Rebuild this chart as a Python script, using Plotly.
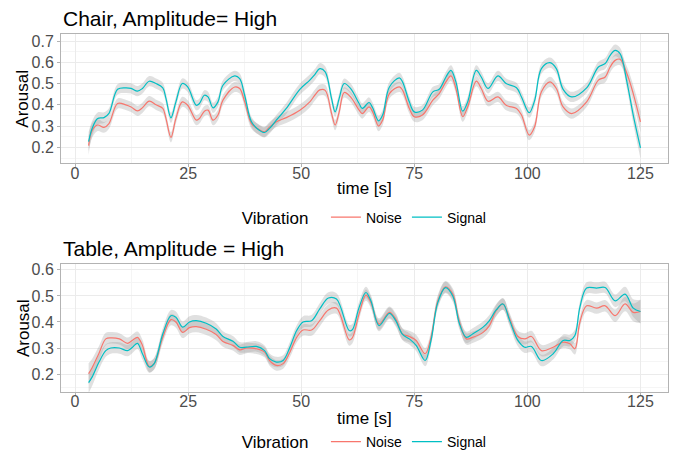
import plotly.graph_objects as go

# ---- Chair, amplitude high ----
chair_time = [3, 3.8, 5, 6.4, 7.5, 9.4, 11.2, 12.4, 13.8, 14.9,
              16.4, 17.9, 19.4, 20.1, 21.2, 22.3, 23.7, 24.9, 26.8, 27.5,
              28.6, 29.4, 30.5, 31.6, 32.7, 35.3, 36.4, 37.5, 39, 40.5,
              41.9, 43, 44.5, 46.7, 49.7, 51.9, 53, 54.1, 55.3, 56.7,
              57.5, 58.4, 59.5, 60.9, 62.8, 63.5, 65, 65.8, 67.1, 68,
              69.5, 71.7, 72.4, 73.9, 75, 76.8, 79.1, 80.5, 82, 83.1,
              84.2, 85.7, 86.8, 88.7, 89.8, 91.3, 93.5, 95.3, 97.6, 98.7,
              100.4, 101.6, 103.1, 105, 106.4, 107.9, 109.8, 113.1, 115.7, 117.2,
              118.3, 119.4, 120.5, 122, 123.4, 125]
chair_signal = [0.227, 0.29, 0.336, 0.34, 0.36, 0.473, 0.48, 0.477, 0.464, 0.477,
                0.511, 0.50, 0.48, 0.43, 0.339, 0.414, 0.50, 0.484, 0.398, 0.406,
                0.445, 0.437, 0.386, 0.414, 0.492, 0.536, 0.523, 0.445, 0.32, 0.284,
                0.27, 0.289, 0.328, 0.383, 0.473, 0.516, 0.542, 0.57, 0.555, 0.43,
                0.367, 0.43, 0.50, 0.477, 0.406, 0.383, 0.411, 0.386, 0.325, 0.352,
                0.484, 0.527, 0.508, 0.414, 0.367, 0.375, 0.461, 0.473, 0.531, 0.562,
                0.508, 0.37, 0.414, 0.562, 0.531, 0.477, 0.536, 0.50, 0.48, 0.437,
                0.363, 0.42, 0.57, 0.598, 0.57, 0.473, 0.437, 0.48, 0.578, 0.594,
                0.633, 0.656, 0.64, 0.508, 0.352, 0.198]
chair_noise = [0.208, 0.281, 0.305, 0.294, 0.312, 0.406, 0.40, 0.39, 0.372, 0.386,
               0.417, 0.40, 0.383, 0.336, 0.247, 0.336, 0.414, 0.398, 0.328, 0.336,
               0.37, 0.375, 0.328, 0.352, 0.422, 0.484, 0.477, 0.414, 0.312, 0.286,
               0.273, 0.295, 0.32, 0.34, 0.375, 0.414, 0.445, 0.47, 0.468, 0.36,
               0.305, 0.367, 0.458, 0.437, 0.375, 0.359, 0.39, 0.367, 0.30, 0.328,
               0.453, 0.484, 0.469, 0.383, 0.344, 0.352, 0.422, 0.453, 0.508, 0.536,
               0.477, 0.344, 0.39, 0.511, 0.477, 0.417, 0.437, 0.398, 0.383, 0.352,
               0.258, 0.297, 0.461, 0.508, 0.477, 0.39, 0.359, 0.414, 0.516, 0.531,
               0.578, 0.609, 0.614, 0.547, 0.453, 0.32]
# half-width of the smoother's confidence band
chair_se = [0.045, 0.035, 0.028, 0.025, 0.024, 0.024, 0.024, 0.024, 0.024, 0.024,
            0.024, 0.024, 0.024, 0.024, 0.024, 0.024, 0.024, 0.024, 0.024, 0.024,
            0.024, 0.024, 0.024, 0.024, 0.024, 0.024, 0.024, 0.024, 0.024, 0.024,
            0.024, 0.024, 0.024, 0.026, 0.026, 0.026, 0.026, 0.026, 0.026, 0.024,
            0.024, 0.024, 0.024, 0.024, 0.024, 0.024, 0.024, 0.024, 0.024, 0.024,
            0.024, 0.024, 0.024, 0.024, 0.024, 0.024, 0.024, 0.024, 0.024, 0.024,
            0.024, 0.024, 0.024, 0.024, 0.024, 0.024, 0.024, 0.024, 0.024, 0.024,
            0.024, 0.024, 0.024, 0.024, 0.024, 0.024, 0.024, 0.024, 0.024, 0.026,
            0.026, 0.028, 0.028, 0.033, 0.04, 0.05]

# ---- Table, amplitude high ----
table_time = [3, 3.8, 5.3, 6.8, 7.9, 9.8, 11.6, 12.7, 13.8, 14.9,
              16.4, 17.5, 19.4, 21.2, 22.3, 23.8, 25.3, 26.8, 29, 31.2,
              32.7, 34.9, 36.4, 37.9, 40.1, 41.9, 43, 44.5, 46, 47.5,
              49, 50.4, 52.3, 54.1, 56, 57.8, 60.6, 61.3, 62.8, 64.3,
              65.4, 67.2, 69.5, 70.9, 72.4, 73.9, 75.4, 77.4, 78.7, 80.2,
              81.9, 83.5, 85, 86.5, 87.9, 90.2, 91.6, 93.1, 94.6, 96.1,
              97.9, 99.4, 100.9, 103.1, 105.7, 107.9, 109.4, 110.5, 111.6, 113.1,
              115.3, 117.2, 119.4, 121.6, 123.4, 125]
table_signal = [0.167, 0.189, 0.246, 0.29, 0.30, 0.30, 0.29, 0.303, 0.318, 0.278,
                0.227, 0.24, 0.354, 0.424, 0.418, 0.38, 0.40, 0.405, 0.395, 0.373,
                0.344, 0.326, 0.303, 0.303, 0.306, 0.29, 0.259, 0.246, 0.252, 0.303,
                0.367, 0.40, 0.405, 0.45, 0.492, 0.488, 0.367, 0.37, 0.456, 0.513,
                0.481, 0.386, 0.433, 0.405, 0.352, 0.335, 0.31, 0.252, 0.329, 0.475,
                0.532, 0.50, 0.392, 0.341, 0.354, 0.38, 0.405, 0.446, 0.469, 0.405,
                0.329, 0.303, 0.306, 0.252, 0.278, 0.329, 0.329, 0.348, 0.456, 0.53,
                0.53, 0.532, 0.481, 0.507, 0.453, 0.44]
table_noise = [0.201, 0.225, 0.28, 0.335, 0.339, 0.335, 0.318, 0.33, 0.341, 0.31,
               0.229, 0.24, 0.341, 0.409, 0.40, 0.36, 0.378, 0.382, 0.372, 0.352,
               0.325, 0.31, 0.293, 0.30, 0.297, 0.284, 0.252, 0.233, 0.24, 0.284,
               0.341, 0.369, 0.369, 0.405, 0.446, 0.453, 0.331, 0.339, 0.431, 0.503,
               0.475, 0.392, 0.437, 0.411, 0.354, 0.344, 0.329, 0.278, 0.341, 0.481,
               0.535, 0.507, 0.399, 0.335, 0.341, 0.36, 0.386, 0.443, 0.469, 0.411,
               0.344, 0.335, 0.344, 0.29, 0.303, 0.322, 0.316, 0.297, 0.399, 0.462,
               0.453, 0.462, 0.424, 0.469, 0.437, 0.44]
table_se = [0.04, 0.034, 0.028, 0.024, 0.022, 0.022, 0.022, 0.022, 0.022, 0.022,
            0.022, 0.022, 0.022, 0.022, 0.022, 0.022, 0.022, 0.022, 0.022, 0.022,
            0.02, 0.02, 0.02, 0.02, 0.02, 0.02, 0.02, 0.02, 0.02, 0.02,
            0.02, 0.022, 0.022, 0.022, 0.022, 0.022, 0.022, 0.022, 0.022, 0.022,
            0.022, 0.022, 0.022, 0.022, 0.022, 0.022, 0.022, 0.022, 0.022, 0.022,
            0.022, 0.022, 0.022, 0.022, 0.022, 0.022, 0.022, 0.022, 0.022, 0.022,
            0.022, 0.022, 0.022, 0.022, 0.022, 0.022, 0.022, 0.022, 0.022, 0.022,
            0.022, 0.022, 0.024, 0.028, 0.034, 0.045]

x_ticks = [0, 25, 50, 75, 100, 125]
chair_y_ticks = [0.2, 0.3, 0.4, 0.5, 0.6, 0.7]
table_y_ticks = [0.2, 0.3, 0.4, 0.5, 0.6]

NOISE = "#F8766D"
SIGNAL = "#00BFC4"
RIBBON = "rgba(153,153,153,0.3)"
FONT = "Liberation Sans, Arial, sans-serif"

fig = go.Figure()


def add_panel(t, noise, signal, se, xa, ya, legend):
    for vals in (noise, signal):
        lo = [v - s for v, s in zip(vals, se)]
        hi = [v + s for v, s in zip(vals, se)]
        fig.add_trace(go.Scatter(x=t, y=lo, mode="lines", line=dict(width=0, shape="spline"),
                                 showlegend=False, hoverinfo="skip", xaxis=xa, yaxis=ya))
        fig.add_trace(go.Scatter(x=t, y=hi, mode="lines", line=dict(width=0, shape="spline"),
                                 fill="tonexty", fillcolor=RIBBON, showlegend=False,
                                 hoverinfo="skip", xaxis=xa, yaxis=ya))
    for name, vals, col in (("Noise", noise, NOISE), ("Signal", signal, SIGNAL)):
        fig.add_trace(go.Scatter(x=t, y=vals, mode="lines", name=name,
                                 line=dict(color=col, width=1.2, shape="spline"),
                                 xaxis=xa, yaxis=ya, legend=legend))


add_panel(chair_time, chair_noise, chair_signal, chair_se, "x", "y", "legend")
add_panel(table_time, table_noise, table_signal, table_se, "x2", "y2", "legend2")

axis_common = dict(
    showline=True, mirror=True, linecolor="#B3B3B3", linewidth=1,
    showgrid=True, gridcolor="#EBEBEB", gridwidth=1,
    ticks="outside", ticklen=3, tickcolor="#B3B3B3",
    tickfont=dict(family=FONT, size=16, color="#4D4D4D"),
    zeroline=False,
)
minor_y = dict(showgrid=True, gridcolor="#F5F5F5", gridwidth=0.6, dtick=0.05, tick0=0.15)
xaxis = dict(axis_common, range=[-3.1, 131.1], tickvals=x_ticks, ticklabelstandoff=-8,
             minor=dict(showgrid=True, gridcolor="#F5F5F5", gridwidth=0.6, dtick=12.5, tick0=0))

title_font = dict(family=FONT, size=17, color="black")
legend_common = dict(orientation="h", x=0.537, xanchor="center",
                     traceorder="normal",
                     title=dict(text="Vibration  ", font=title_font),
                     font=dict(family=FONT, size=14, color="black"), itemwidth=30)

fig.update_layout(
    width=681, height=459,
    margin=dict(l=0, r=0, t=0, b=0),
    paper_bgcolor="white", plot_bgcolor="white",
    font=dict(family=FONT),
    xaxis=dict(xaxis, domain=[0.0896, 0.981], anchor="y"),
    yaxis=dict(axis_common, domain=[0.647, 0.930], range=[0.125, 0.733], tickvals=chair_y_ticks,
               tickformat=".1f", anchor="x", minor=minor_y),
    xaxis2=dict(xaxis, domain=[0.0896, 0.981], anchor="y2"),
    yaxis2=dict(axis_common, domain=[0.146, 0.427], range=[0.130, 0.623], tickvals=table_y_ticks,
                tickformat=".1f", anchor="x2", minor=minor_y),
    legend=dict(legend_common, y=1 - 217 / 459, yanchor="middle"),
    legend2=dict(legend_common, y=0, yanchor="bottom"),
    annotations=[
        dict(text="Chair, Amplitude= High", x=0.0896, y=0.963, xref="paper", yref="paper",
             xanchor="left", yanchor="middle", showarrow=False,
             font=dict(family=FONT, size=21, color="black")),
        dict(text="Table, Amplitude = High", x=0.0896, y=0.46, xref="paper", yref="paper",
             xanchor="left", yanchor="middle", showarrow=False,
             font=dict(family=FONT, size=21, color="black")),
        # axis titles
        dict(text="Arousal", x=23 / 681, y=0.7885, xref="paper", yref="paper", textangle=-90,
             xanchor="center", yanchor="middle", showarrow=False, font=title_font),
        dict(text="Arousal", x=23 / 681, y=0.2865, xref="paper", yref="paper", textangle=-90,
             xanchor="center", yanchor="middle", showarrow=False, font=title_font),
        dict(text="time [s]", x=0.535, y=1 - 187 / 459, xref="paper", yref="paper",
             xanchor="center", yanchor="middle", showarrow=False, font=title_font),
        dict(text="time [s]", x=0.535, y=1 - 418 / 459, xref="paper", yref="paper",
             xanchor="center", yanchor="middle", showarrow=False, font=title_font),
    ],
)

# page without the default body margin so the figure fills the window exactly
fig.write_html("out.html", post_script="document.body.style.margin='0';")
